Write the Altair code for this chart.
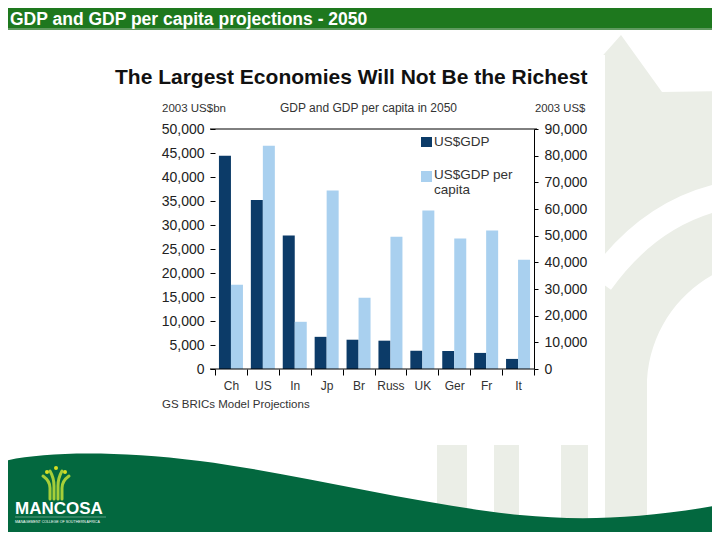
import base64
import altair as alt
import pandas as pd

# ---------------- data ----------------
countries = ["Ch", "US", "In", "Jp", "Br", "Russ", "UK", "Ger", "Fr", "It"]
gdp_bn = [44450, 35200, 27800, 6700, 6100, 5900, 3800, 3750, 3350, 2100]
gdp_per_capita = [31600, 83700, 17700, 66900, 26700, 49600, 59400, 48900, 51900, 41000]
series_names = ["US$GDP", "US$GDP per capita"]
left_ticks = [0, 5000, 10000, 15000, 20000, 25000, 30000, 35000, 40000, 45000, 50000]
right_ticks = [0, 10000, 20000, 30000, 40000, 50000, 60000, 70000, 80000, 90000]

header_text = "GDP and GDP per capita projections - 2050"
title_text = "The Largest Economies Will Not Be the Richest"
left_unit = "2003 US$bn"
mid_caption = "GDP and GDP per capita in 2050"
right_unit = "2003 US$"
source_text = "GS BRICs Model Projections"
brand = "MANCOSA"
brand_tag = "MANAGEMENT COLLEGE OF SOUTHERN AFRICA"

DARK = "#0c3b68"
LIGHT = "#a9d0ef"
FONT = "Liberation Sans, Arial, Helvetica, sans-serif"

df = pd.DataFrame({"country": countries, "gdp": gdp_bn, "pc": gdp_per_capita})
one = pd.DataFrame({"k": [0]})

W, H = 319, 240
PAD = {"left": 207, "top": 121, "right": 178, "bottom": 163}

# ---------------- decorative slide background (svg image) ----------------
svg = """<svg xmlns="http://www.w3.org/2000/svg" width="704" height="524" viewBox="8 8 704 524">
<rect x="0" y="0" width="720" height="540" fill="#ffffff"/>
<g fill="#ebeee7">
<path d="M597,62 L621,35 L662,92 L720,91 L720,271 C680,290 650,330 647,380 L647,540 L605,540 L605,62 Z"/>
<rect x="437" y="445" width="30" height="95"/>
<rect x="494" y="445" width="25" height="95"/>
<rect x="561" y="445" width="27" height="95"/>
</g>
<path d="M600,282 Q650,212 724,196" stroke="#ffffff" stroke-width="27" fill="none"/>
<rect x="100" y="55" width="505" height="360" fill="#ffffff"/>
<path d="M0,462 C40,452 110,450 200,461 C300,474 420,505 520,515 C580,521 640,519 720,505 L720,540 L0,540 Z" fill="#03683f"/>
<rect x="0" y="0" width="720" height="30" fill="#1e781e"/>
<rect x="0" y="28" width="720" height="2" fill="#5f9a5f"/>
<g stroke="#a6ce39" stroke-width="3" fill="none" stroke-linecap="round">
<path d="M50,499 V488 Q50,481 43,476"/>
<path d="M54,499 V486 Q54,478 50,471"/>
<path d="M58,499 V486 Q58,478 62,471"/>
<path d="M62,499 V488 Q62,481 69,476"/>
</g>
<g fill="#d7df23"><circle cx="47" cy="472" r="2"/><circle cx="56" cy="468" r="2"/><circle cx="65" cy="472" r="2"/></g>
<line x1="15" y1="517" x2="106" y2="517" stroke="#ffffff" stroke-opacity="0.6" stroke-width="0.6"/>
</svg>"""
uri = "data:image/svg+xml;base64," + base64.b64encode(svg.encode("utf-8")).decode("ascii")

background = alt.Chart(one).mark_image(
    align="left", baseline="top", width=704, height=524, aspect=False
).encode(x=alt.value(-PAD["left"]), y=alt.value(-PAD["top"]), url=alt.value(uri))

# ---------------- bars ----------------
x_enc = alt.X(
    "country:N",
    sort=countries,
    scale=alt.Scale(paddingInner=0, paddingOuter=0),
    axis=alt.Axis(
        orient="bottom", title=None, labelAngle=0, domain=False, tickBand="extent",
        tickSize=6, tickColor="#000000", labelPadding=5, labelFontSize=12,
        labelColor="#333333", labelFont=FONT, zindex=1,
    ),
)

gdp_bars = alt.Chart(df).mark_bar(width=12, xOffset=-6, color=DARK).encode(
    x=x_enc,
    y=alt.Y(
        "gdp:Q",
        scale=alt.Scale(domain=[0, 50000], nice=False),
        axis=alt.Axis(
            orient="left", values=left_ticks, format=",.0f", title=None, grid=False,
            domain=False, tickSize=5, tickColor="#000000", labelPadding=6,
            labelFontSize=14, labelColor="#222222", labelFont=FONT, zindex=1,
        ),
    ),
)

pc_bars = alt.Chart(df).mark_bar(width=12, xOffset=6, color=LIGHT).encode(
    x=x_enc,
    y=alt.Y(
        "pc:Q",
        scale=alt.Scale(domain=[0, 90000], nice=False),
        axis=alt.Axis(
            orient="right", values=right_ticks, format=",.0f", title=None, grid=False,
            domain=True, domainColor="#000000", tickSize=4, tickColor="#000000",
            labelPadding=6, labelFontSize=14, labelColor="#222222", labelFont=FONT,
            zindex=1,
        ),
    ),
)

# ---------------- frame lines ----------------
top_line = alt.Chart(one).mark_rule(color="#000000", strokeWidth=1).encode(
    x=alt.value(-5), x2=alt.value(W + 3), y=alt.value(0)
)
bottom_line = alt.Chart(one).mark_rule(color="#000000", strokeWidth=1).encode(
    x=alt.value(-5), x2=alt.value(W), y=alt.value(H)
)

# ---------------- legend ----------------
legend_sq1 = alt.Chart(one).mark_rect(color=DARK).encode(
    x=alt.value(206), x2=alt.value(217), y=alt.value(8), y2=alt.value(18)
)
legend_sq2 = alt.Chart(one).mark_rect(color=LIGHT).encode(
    x=alt.value(206), x2=alt.value(217), y=alt.value(42), y2=alt.value(53)
)


def label(text, px, py, size, color="#222222", weight="normal", align="left", line_height=None):
    kw = dict(align=align, baseline="alphabetic", fontSize=size, color=color,
              fontWeight=weight, font=FONT)
    if line_height is not None:
        kw["lineBreak"] = "\n"
        kw["lineHeight"] = line_height
    return alt.Chart(one).mark_text(**kw).encode(
        x=alt.value(px), y=alt.value(py), text=alt.value(text)
    )


texts = [
    label(header_text, -205, -104, 17.5, color="#ffffff", weight="bold"),
    label(title_text, -100, -45.5, 21, color="#111111", weight="bold"),
    label(left_unit, -53, -17.3, 11.5, color="#333333"),
    label(mid_caption, 65, -17.3, 12, color="#333333"),
    label(right_unit, 320, -17.3, 11.3, color="#333333"),
    label(series_names[0], 219, 17, 13.5, color="#333333"),
    label("US$GDP per\ncapita", 219, 50, 13.5, color="#333333", line_height=15),
    label(source_text, -53, 278.5, 11.5, color="#333333"),
    label(brand, -200, 385, 17, color="#ffffff", weight="bold"),
    label(brand_tag, -200, 394, 3.6, color="#ffffff"),
]

chart = (
    alt.layer(
        background, gdp_bars, pc_bars, top_line, bottom_line,
        legend_sq1, legend_sq2, *texts,
    )
    .resolve_scale(y="independent")
    .properties(
        width=W, height=H,
        autosize=alt.AutoSizeParams(type="none"),
        padding=PAD,
        background="white",
    )
    .configure_view(stroke=None)
)

chart.save("out.html", embed_options={"renderer": "svg", "actions": False})
